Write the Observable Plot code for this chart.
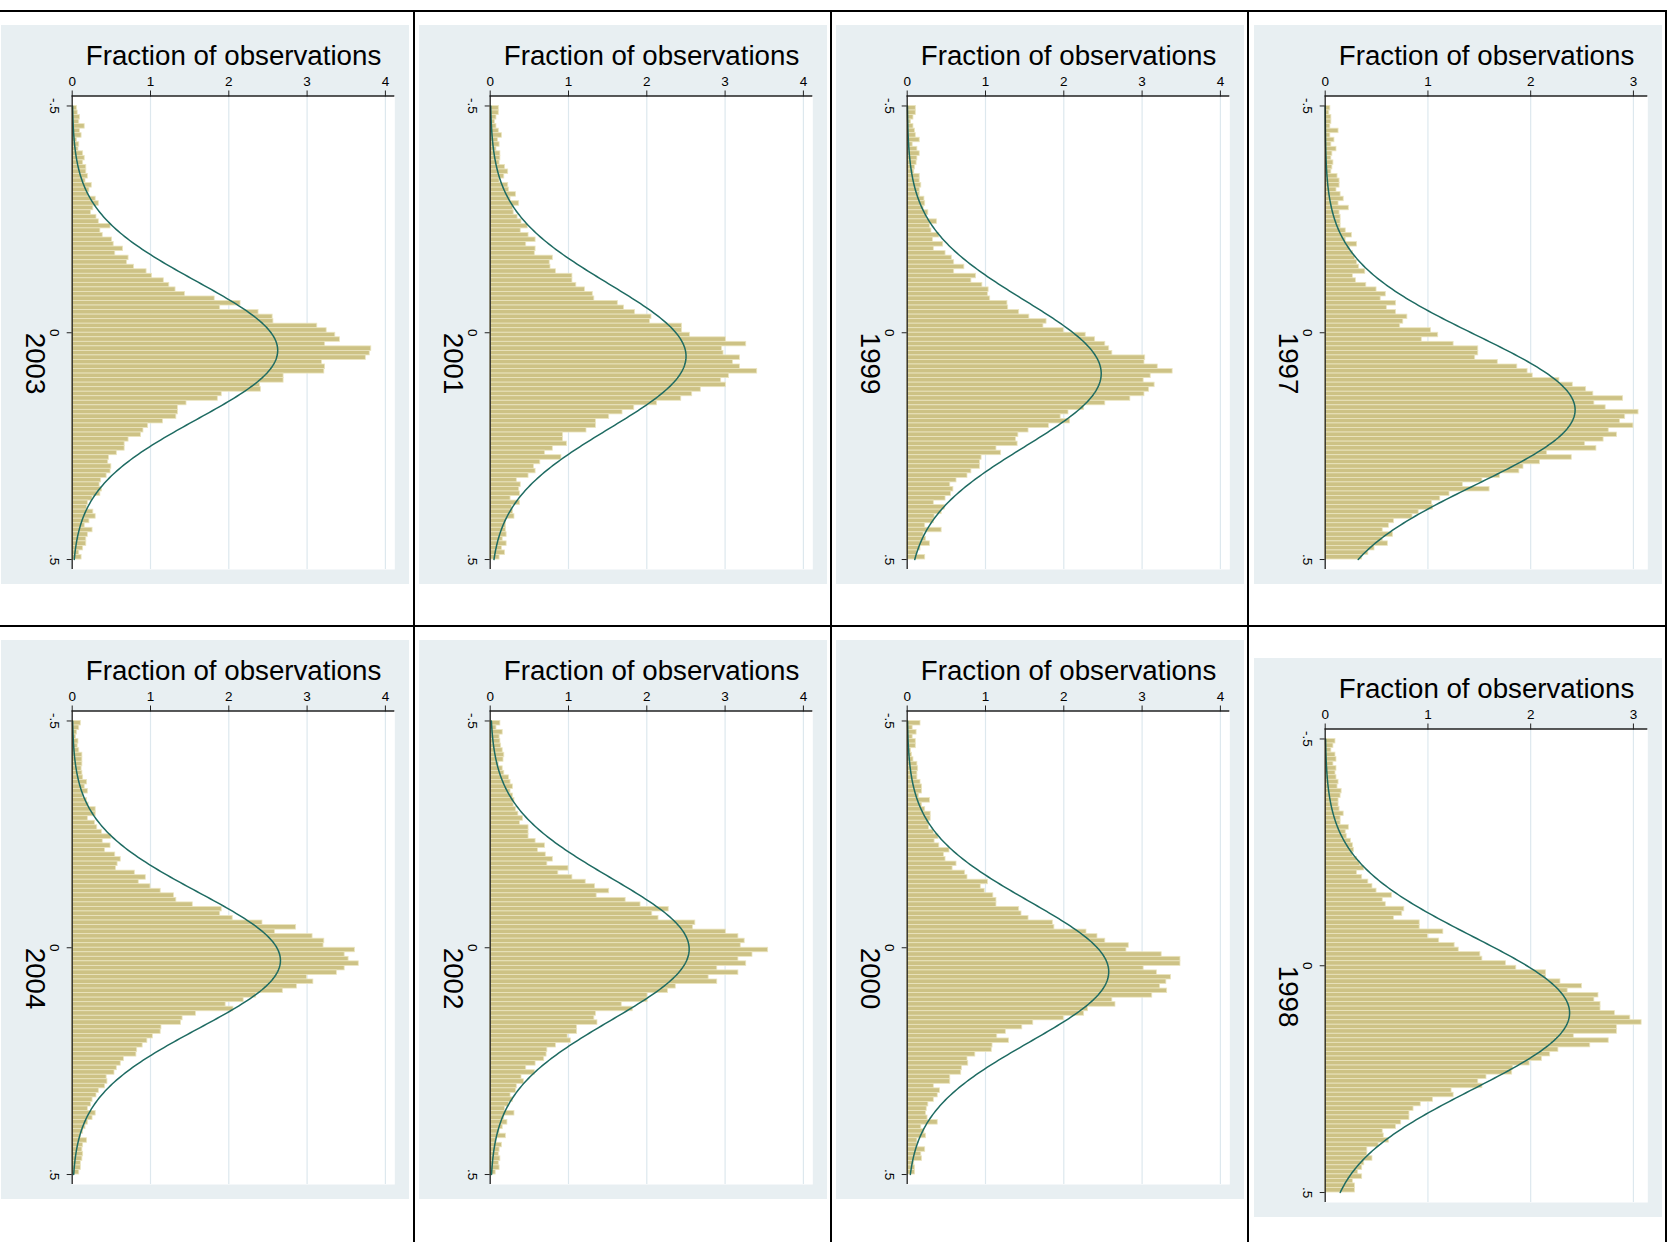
<!DOCTYPE html>
<html>
<head>
<meta charset="utf-8">
<script src="https://cdn.jsdelivr.net/npm/d3@7"></script>
<script src="https://cdn.jsdelivr.net/npm/@observablehq/plot@0.6"></script>
<style>
  html, body { margin: 0; padding: 0; background: #ffffff; }
  #chart { position: relative; width: 1673px; height: 1242px; overflow: hidden; background: #ffffff;
           font-family: "Liberation Sans", Arial, Helvetica, sans-serif; }
  .line { position: absolute; background: #000000; }
  #chart svg { position: absolute; }
</style>
</head>
<body>
<div id="chart"></div>
<script>
// ---------------- DATA ----------------
const years = [2003, 2001, 1999, 1997, 2004, 2002, 2000, 1998];
const normMean = [0.039, 0.052, 0.090, 0.170, 0.028, 0.003, 0.053, 0.104];
const normSd   = [0.152, 0.1595, 0.161, 0.164, 0.150, 0.157, 0.155, 0.1677];
const xAxisTitle = "Fraction of observations";
const xTicksWide = [0, 1, 2, 3, 4];
const xTicksNarrow = [0, 1, 2, 3];
const xTickLabelsWide = ["0", "1", "2", "3", "4"];
const yTicks = [-0.5, 0, 0.5];
const yTickLabels = ["-.5", "0", ".5"];
const binStart = -0.5;
const binWidth = 0.01;

const v2003 = [0.06,0.07,0.10,0.09,0.16,0.10,0.12,0.06,0.09,0.08,
  0.14,0.16,0.14,0.18,0.18,0.20,0.17,0.25,0.22,0.21,
  0.30,0.34,0.27,0.24,0.31,0.34,0.49,0.36,0.39,0.51,
  0.53,0.65,0.55,0.72,0.70,0.79,0.95,1.02,1.17,1.24,
  1.32,1.44,1.82,2.15,1.89,2.38,2.56,2.57,3.13,3.25,
  3.36,3.42,3.23,3.82,3.80,3.75,3.19,3.23,3.22,2.70,
  2.70,2.40,2.41,1.91,1.86,1.46,1.35,1.35,1.33,1.16,
  0.97,0.91,0.88,0.72,0.67,0.67,0.57,0.47,0.46,0.50,
  0.49,0.44,0.37,0.35,0.38,0.36,0.26,0.20,0.19,0.27,
  0.30,0.22,0.16,0.26,0.20,0.18,0.18,0.14,0.09,0.12];

const v2001 = [0.11,0.11,0.08,0.06,0.08,0.11,0.15,0.10,0.12,0.08,
  0.13,0.13,0.12,0.19,0.23,0.18,0.12,0.23,0.24,0.33,
  0.26,0.37,0.29,0.30,0.35,0.40,0.48,0.39,0.49,0.58,
  0.46,0.58,0.57,0.80,0.76,0.77,0.84,1.05,1.05,1.10,
  1.21,1.31,1.33,1.63,1.71,1.85,2.06,2.04,2.45,2.45,
  2.55,3.01,3.27,2.96,2.98,3.19,3.10,3.19,3.41,3.05,
  2.95,3.01,2.69,2.58,2.44,2.13,1.84,1.69,1.52,1.35,
  1.35,1.23,0.93,0.93,0.98,0.80,0.70,0.91,0.64,0.56,
  0.58,0.49,0.34,0.39,0.37,0.38,0.26,0.38,0.28,0.29,
  0.31,0.20,0.20,0.20,0.21,0.16,0.21,0.15,0.19,0.12];

const v1999 = [0.11,0.11,0.08,0.05,0.08,0.10,0.11,0.16,0.07,0.13,
  0.16,0.13,0.12,0.10,0.09,0.16,0.16,0.18,0.16,0.16,
  0.22,0.23,0.21,0.27,0.25,0.38,0.29,0.31,0.41,0.33,
  0.46,0.34,0.49,0.57,0.60,0.73,0.60,0.88,0.82,0.96,
  1.04,1.03,1.06,1.28,1.29,1.43,1.56,1.78,1.74,2.00,
  2.28,2.40,2.53,2.58,2.62,3.04,3.03,3.20,3.39,3.11,
  3.02,3.16,3.09,3.03,2.85,2.53,2.26,2.06,1.96,2.08,
  1.81,1.55,1.42,1.39,1.41,1.14,1.20,0.95,0.93,0.93,
  0.82,0.77,0.63,0.55,0.59,0.56,0.49,0.34,0.48,0.44,
  0.35,0.34,0.23,0.44,0.21,0.24,0.29,0.17,0.13,0.23];

const v1997 = [0.05,0.04,0.06,0.06,0.05,0.13,0.05,0.09,0.06,0.11,
  0.07,0.06,0.08,0.07,0.06,0.12,0.14,0.14,0.11,0.15,
  0.18,0.13,0.23,0.14,0.15,0.15,0.15,0.20,0.26,0.20,
  0.31,0.24,0.27,0.29,0.31,0.33,0.39,0.27,0.30,0.40,
  0.50,0.59,0.54,0.69,0.60,0.69,0.80,0.76,0.73,1.03,
  1.10,0.94,1.25,1.49,1.49,1.46,1.68,1.87,1.97,2.02,
  2.28,2.41,2.54,2.61,2.90,2.62,2.73,3.05,2.92,2.87,
  3.00,2.76,2.84,2.71,2.53,2.64,2.16,2.40,2.09,1.93,
  1.89,1.70,1.53,1.34,1.60,1.21,1.12,1.04,1.05,0.91,
  0.85,0.67,0.62,0.56,0.66,0.56,0.61,0.48,0.42,0.36];

const v2004 = [0.11,0.09,0.06,0.05,0.08,0.07,0.09,0.13,0.13,0.13,
  0.12,0.13,0.14,0.19,0.16,0.20,0.14,0.19,0.21,0.30,
  0.30,0.20,0.29,0.32,0.38,0.50,0.39,0.49,0.42,0.55,
  0.62,0.58,0.56,0.80,0.94,0.85,1.00,1.13,1.30,1.33,
  1.54,1.91,1.89,2.05,2.43,2.86,2.59,3.07,3.22,3.21,
  3.61,3.48,3.53,3.66,3.48,3.38,3.00,3.08,2.87,2.69,
  2.35,2.19,1.96,2.06,1.58,1.41,1.39,1.14,1.13,1.03,
  0.96,0.90,0.83,0.82,0.66,0.62,0.57,0.54,0.44,0.45,
  0.42,0.34,0.31,0.26,0.24,0.20,0.30,0.26,0.20,0.17,
  0.14,0.11,0.19,0.14,0.13,0.14,0.13,0.11,0.11,0.09];

const v2002 = [0.13,0.08,0.16,0.12,0.13,0.14,0.16,0.18,0.17,0.11,
  0.16,0.18,0.24,0.26,0.29,0.26,0.29,0.31,0.30,0.33,
  0.36,0.42,0.38,0.49,0.49,0.49,0.58,0.70,0.61,0.71,
  0.80,0.73,1.00,0.87,1.05,1.22,1.34,1.52,1.36,1.73,
  1.92,2.28,2.07,2.15,2.62,2.59,3.01,3.17,3.25,3.20,
  3.55,3.35,3.17,3.27,2.90,3.17,2.79,2.90,2.37,2.27,
  2.01,2.01,1.68,1.82,1.35,1.33,1.37,1.11,1.11,0.99,
  1.03,0.84,0.73,0.72,0.69,0.58,0.46,0.57,0.40,0.43,
  0.34,0.33,0.26,0.29,0.24,0.19,0.31,0.18,0.22,0.16,
  0.12,0.20,0.08,0.15,0.12,0.11,0.13,0.11,0.12,0.07];

const v2000 = [0.17,0.07,0.12,0.07,0.11,0.11,0.05,0.06,0.08,0.13,
  0.14,0.13,0.13,0.17,0.19,0.19,0.15,0.29,0.19,0.23,
  0.30,0.30,0.28,0.28,0.34,0.40,0.35,0.41,0.54,0.47,
  0.49,0.63,0.58,0.74,0.77,1.03,0.94,0.99,1.10,1.14,
  1.14,1.43,1.46,1.55,1.86,1.88,2.29,2.43,2.53,2.83,
  2.80,3.25,3.49,3.49,3.02,3.19,3.37,3.31,3.23,3.32,
  3.13,2.62,2.66,2.31,2.26,2.00,1.61,1.47,1.26,1.15,
  1.30,1.09,1.08,0.87,0.77,0.78,0.70,0.69,0.55,0.55,
  0.34,0.42,0.39,0.34,0.27,0.25,0.24,0.26,0.39,0.18,
  0.22,0.24,0.13,0.13,0.23,0.18,0.19,0.09,0.10,0.10];

const v1998 = [0.10,0.08,0.06,0.10,0.11,0.08,0.11,0.10,0.11,0.13,
  0.12,0.16,0.15,0.13,0.13,0.14,0.18,0.15,0.15,0.23,
  0.20,0.21,0.25,0.27,0.28,0.27,0.31,0.34,0.38,0.31,
  0.36,0.42,0.46,0.50,0.65,0.56,0.59,0.77,0.75,0.67,
  0.92,0.92,1.15,1.00,1.11,1.26,1.30,1.51,1.53,1.76,
  1.86,2.15,2.15,2.29,2.50,2.36,2.66,2.62,2.68,2.68,
  2.82,2.97,3.08,2.84,2.84,2.42,2.76,2.58,2.27,2.19,
  2.11,1.99,1.83,1.82,1.57,1.49,1.53,1.23,1.25,1.05,
  0.93,0.86,0.82,0.82,0.74,0.69,0.56,0.57,0.62,0.52,
  0.41,0.41,0.46,0.38,0.36,0.32,0.36,0.27,0.29,0.29];

const seriesList = [v2003, v2001, v1999, v1997, v2004, v2002, v2000, v1998];

// ---------------- LAYOUT ----------------
const chart = document.getElementById("chart");
function line(left, top, width, height) {
  const d = document.createElement("div");
  d.className = "line";
  Object.assign(d.style, { left: left + "px", top: top + "px", width: width + "px", height: height + "px" });
  chart.appendChild(d);
}

const colLeft = [1, 418.5, 835.5, 1253.5];
const rowTop = [25.2, 640];
const top1998 = 658;

const PANEL_W = 408, PANEL_H = 558.5;
const ML = 70.7, MR = 14.7, MT = 70.5, MB = 14.5;
const Y_DOMAIN = [-0.522, 0.522];
const FONT = "'Liberation Sans', Arial, Helvetica, sans-serif";

function panel(k) {
  const values = seriesList[k];
  const year = years[k];
  const col = k % 4;
  const row = Math.floor(k / 4);
  const narrow = col === 3;
  const xMax = narrow ? 3.14 : 4.12;
  const xTicks = narrow ? xTicksNarrow : xTicksWide;

  const bins = values.map((v, i) => ({
    lo: binStart + i * binWidth,
    hi: binStart + (i + 1) * binWidth,
    v
  }));
  const mu = normMean[k], sd = normSd[k];
  const curve = d3.range(-0.5, 0.50001, 0.004).map(y => ({
    y,
    d: Math.exp(-0.5 * ((y - mu) / sd) ** 2) / (sd * Math.sqrt(2 * Math.PI))
  }));

  const svg = Plot.plot({
    width: PANEL_W,
    height: PANEL_H,
    marginLeft: ML, marginRight: MR, marginTop: MT, marginBottom: MB,
    x: { domain: [0, xMax] },
    y: { domain: Y_DOMAIN, reverse: true },
    style: { background: "#e8eff2", fontFamily: FONT, color: "#000", overflow: "visible" },
    marks: [
      Plot.frame({ fill: "#ffffff", stroke: "none" }),
      Plot.ruleX(xTicks.filter(t => t > 0), { stroke: "#dde8ee", strokeWidth: 1.2 }),
      Plot.rectX(bins, { y1: "lo", y2: "hi", x: "v", fill: "#cdc285", stroke: "#ebe5c0", strokeWidth: 0.8 }),
      Plot.line(curve, { x: "d", y: "y", stroke: "#1e6b62", strokeWidth: 1.5 }),
      Plot.ruleX([0], { stroke: "#222", strokeWidth: 1.3 }),
      Plot.ruleY([Y_DOMAIN[0]], { stroke: "#222", strokeWidth: 1.3 }),
      Plot.axisX({ anchor: "top", ticks: xTicks, tickFormat: d => xTickLabelsWide[xTicksWide.indexOf(d)],
                   tickSize: 6, tickPadding: 4, fontSize: 13.5,
                   label: null, stroke: "#222", fill: "#000" }),
      Plot.axisY({ anchor: "left", ticks: yTicks, tickFormat: d => yTickLabels[yTicks.indexOf(d)],
                   tickSize: 5, tickPadding: 8, tickRotate: 90, fontSize: 13.5,
                   label: null, stroke: "#222", fill: "#000" }),
      Plot.text([xAxisTitle], { frameAnchor: "top", lineAnchor: "bottom", dy: -31, fontSize: 27.7, fill: "#000" }),
      Plot.text([String(year)], { frameAnchor: "left", rotate: 90, dx: -37.7, fontSize: 27.7, fill: "#000" })
    ]
  });

  const top = (year === 1998) ? top1998 : rowTop[row];
  svg.style.left = colLeft[col] + "px";
  svg.style.top = top + "px";
  chart.appendChild(svg);
}

for (let k = 0; k < years.length; k++) panel(k);

// grid separators (drawn on top)
line(0, 10, 1667, 2);
line(0, 625, 1667, 2);
line(413, 10, 2, 1232);
line(830, 10, 2, 1232);
line(1247, 10, 2, 1232);
line(1664.5, 10, 2.5, 1232);
</script>
</body>
</html>
